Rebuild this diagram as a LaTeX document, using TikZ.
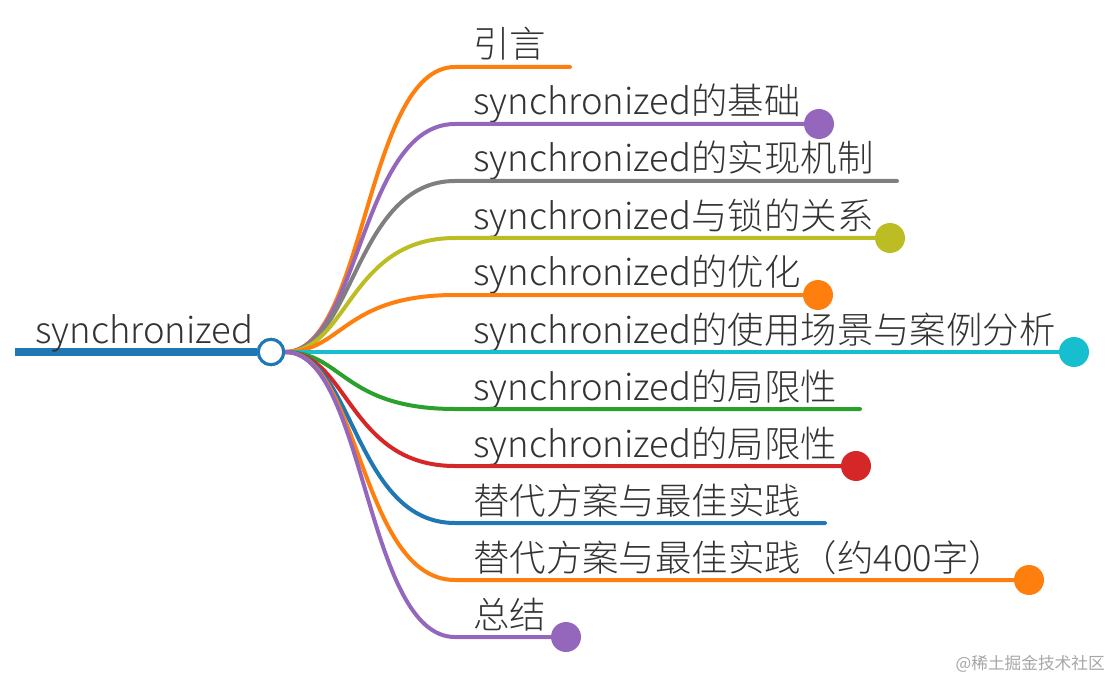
\documentclass[tikz,border=0pt]{standalone}
\usepackage{fontspec}
\setmainfont{Noto Sans CJK SC}[UprightFont={* Light}]
\newfontfamily\wmfont{Noto Sans CJK SC}
\definecolor{cblue}{HTML}{1F77B4}
\definecolor{corange}{HTML}{FF7F0E}
\definecolor{cpurple}{HTML}{9467BD}
\definecolor{cgray}{HTML}{7F7F7F}
\definecolor{colive}{HTML}{BCBD22}
\definecolor{ccyan}{HTML}{17BECF}
\definecolor{cgreen}{HTML}{2CA02C}
\definecolor{cred}{HTML}{D62728}
\definecolor{ctext}{HTML}{333333}
\tikzset{
  lbl/.style={anchor=base west, inner sep=0pt, text=ctext, font=\fontsize{27.3}{31}\selectfont},
  branch/.style={line width=3pt, line cap=round},
  enddot/.style={circle, inner sep=0pt, minimum size=22.5pt, fill=#1},
  hubnode/.style={circle, draw=cblue, line width=2.25pt, fill=white, inner sep=0pt, minimum size=19pt},
}
\begin{document}
\begin{tikzpicture}[x=0.75pt,y=-0.75pt]
\useasboundingbox (0,0) rectangle (1111,681);
% root
\coordinate (rs) at (15,352);
\node[hubnode] (hub) at (271,352) {};
\draw[cblue, line width=6pt] (rs) -- (hub.west);
\node[lbl] (root) at (35,343) {synchronized};
% branches
\foreach \i/\y/\ex/\col/\dot/\txt in {
  1/67/570/corange/0/{引言},
  2/124/819/cpurple/1/{synchronized的基础},
  3/181/897/cgray/0/{synchronized的实现机制},
  4/238/890/colive/1/{synchronized与锁的关系},
  5/295/818/corange/1/{synchronized的优化},
  6/352/1074/ccyan/1/{synchronized的使用场景与案例分析},
  7/409/860/cgreen/0/{synchronized的局限性},
  8/466/856/cred/1/{synchronized的局限性},
  9/523/825/cblue/0/{替代方案与最佳实践},
  10/580/1029/corange/1/{替代方案与最佳实践（约400字）},
  11/637/566/cpurple/1/{总结}}{
  \pgfmathsetmacro\m{337+0.1*abs(\y-352)}
  \coordinate (e\i) at (\ex,\y);
  \coordinate (k\i) at (455,\y);
  \node[lbl] (t\i) at (473,\y-9) {\txt};
  \draw[branch, \col] (hub.east) .. controls (\m,352) and (\m,\y) .. (k\i) -- (e\i);
  \ifnum\dot=1 \node[enddot=\col] (d\i) at (e\i) {};\fi
}
\node[hubnode] (hubtop) at (271,352) {};
\node[anchor=base east, inner sep=0pt, text=black!35, font=\wmfont\fontsize{12.5}{14}\selectfont] (wm) at (1105,669) {@稀土掘金技术社区};
\end{tikzpicture}
\end{document}
